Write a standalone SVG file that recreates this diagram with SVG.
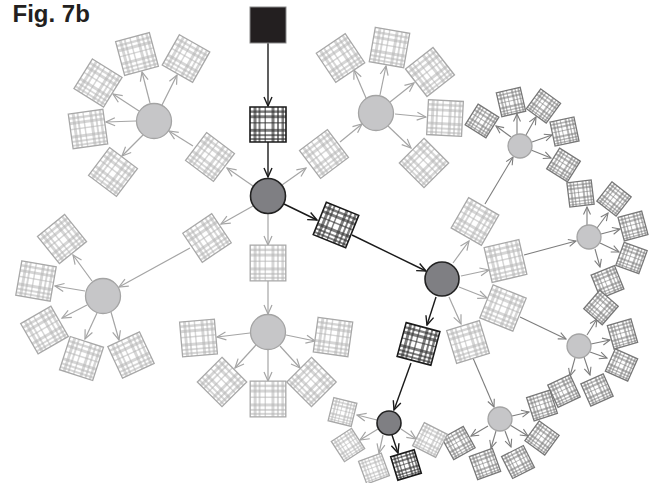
<svg xmlns="http://www.w3.org/2000/svg" xmlns:xlink="http://www.w3.org/1999/xlink" width="657" height="483" viewBox="0 0 657 483">
<style>
.bl{fill:#b4b4b4;fill-opacity:.55}
.bm{fill:#7a7a7a;fill-opacity:.55}
.bd{fill:#2e2e2e;fill-opacity:.62}
.edL{fill:none;stroke:#a8a8a8;stroke-width:1.3}
.edM{fill:none;stroke:#777;stroke-width:1.3}
.edD{fill:none;stroke:#1a1a1a;stroke-width:1.6}
.cL{fill:#c6c6c8;stroke:#a4a4a4;stroke-width:1.3}
.cD{fill:#7f7f83;stroke:#222;stroke-width:1.6}
.lL{stroke:#a5a5a5;stroke-width:1.2;fill:none;marker-end:url(#mL)}
.lM{stroke:#7d7d7d;stroke-width:1.1;fill:none;marker-end:url(#mM)}
.lD{stroke:#1a1a1a;stroke-width:1.4;fill:none;marker-end:url(#mD)}
.title{font-family:"Liberation Sans",Arial,sans-serif;font-weight:bold;font-size:24px;fill:#231f20}
</style>
<defs>
<marker id="mL" viewBox="-10 -5 11 10" refX="0" refY="0" markerWidth="11" markerHeight="10" markerUnits="userSpaceOnUse" orient="auto"><path d="M-9,-4 L0,0 L-9,4" fill="none" stroke="#a5a5a5" stroke-width="1.2"/></marker>
<marker id="mM" viewBox="-9 -5 10 10" refX="0" refY="0" markerWidth="10" markerHeight="10" markerUnits="userSpaceOnUse" orient="auto"><path d="M-7.5,-3.5 L0,0 L-7.5,3.5" fill="none" stroke="#7d7d7d" stroke-width="1.1"/></marker>
<marker id="mD" viewBox="-10 -5 11 10" refX="0" refY="0" markerWidth="11" markerHeight="10" markerUnits="userSpaceOnUse" orient="auto"><path d="M-9,-4 L0,0 L-9,4" fill="none" stroke="#1a1a1a" stroke-width="1.4"/></marker>
<g id="bands">
<rect x="-14.5" y="-18" width="3" height="36"/>
<rect x="-9.5" y="-18" width="2" height="36"/>
<rect x="-3.5" y="-18" width="1.5" height="36"/>
<rect x="3.5" y="-18" width="3" height="36"/>
<rect x="9" y="-18" width="2" height="36"/>
<rect x="13.5" y="-18" width="2.5" height="36"/>
<rect x="-18" y="-14.5" width="36" height="2.5"/>
<rect x="-18" y="-9.5" width="36" height="3"/>
<rect x="-18" y="-2.5" width="36" height="1.5"/>
<rect x="-18" y="4.5" width="36" height="3"/>
<rect x="-18" y="10" width="36" height="2"/>
<rect x="-18" y="14" width="36" height="2"/>
</g>
<g id="sqL"><rect x="-18" y="-18" width="36" height="36" fill="#fff"/><use href="#bands" class="bl"/><rect x="-18" y="-18" width="36" height="36" class="edL" vector-effect="non-scaling-stroke"/></g>
<g id="sqM"><rect x="-18" y="-18" width="36" height="36" fill="#fff"/><use href="#bands" class="bm"/><rect x="-18" y="-18" width="36" height="36" class="edM" vector-effect="non-scaling-stroke"/></g>
<g id="sqD"><rect x="-18" y="-18" width="36" height="36" fill="#fff"/><use href="#bands" class="bd"/><rect x="-18" y="-18" width="36" height="36" class="edD" vector-effect="non-scaling-stroke"/></g>
</defs>
<rect width="657" height="483" fill="#fff"/>
<text class="title" x="12.5" y="22">Fig. 7b</text>

<g id="connectors">
<line class="lD" x1="268" y1="43" x2="268" y2="106"/>
<line class="lD" x1="268" y1="142" x2="268" y2="177"/>
<line class="lD" x1="284" y1="204" x2="317" y2="220"/>
<line class="lD" x1="352" y1="235" x2="426" y2="271"/>
<line class="lD" x1="436" y1="297" x2="427" y2="325"/>
<line class="lD" x1="411" y1="363" x2="394" y2="410"/>
<line class="lD" x1="392" y1="435" x2="398" y2="453"/>
<line class="lL" x1="253" y1="186" x2="227" y2="168"/>
<line class="lL" x1="193" y1="146" x2="169" y2="131"/>
<line class="lL" x1="150" y1="103" x2="142" y2="72"/>
<line class="lL" x1="162" y1="105" x2="177" y2="75"/>
<line class="lL" x1="139" y1="111" x2="113" y2="94"/>
<line class="lL" x1="136" y1="121" x2="106" y2="122"/>
<line class="lL" x1="143" y1="135" x2="122" y2="156"/>
<line class="lL" x1="282" y1="185" x2="306" y2="168"/>
<line class="lL" x1="340" y1="142" x2="362" y2="124"/>
<line class="lL" x1="366" y1="98" x2="354" y2="70"/>
<line class="lL" x1="380" y1="95" x2="386" y2="66"/>
<line class="lL" x1="390" y1="102" x2="414" y2="83"/>
<line class="lL" x1="395" y1="114" x2="426" y2="117"/>
<line class="lL" x1="388" y1="126" x2="411" y2="148"/>
<line class="lL" x1="253" y1="206" x2="221" y2="224"/>
<line class="lL" x1="190" y1="248" x2="119" y2="287"/>
<line class="lL" x1="92" y1="281" x2="73" y2="255"/>
<line class="lL" x1="85" y1="291" x2="55" y2="286"/>
<line class="lL" x1="87" y1="305" x2="62" y2="318"/>
<line class="lL" x1="97" y1="313" x2="85" y2="339"/>
<line class="lL" x1="111" y1="312" x2="119" y2="340"/>
<line class="lL" x1="268" y1="214" x2="268" y2="245"/>
<line class="lL" x1="268" y1="281" x2="268" y2="314"/>
<line class="lL" x1="250" y1="333" x2="217" y2="337"/>
<line class="lL" x1="256" y1="345" x2="235" y2="368"/>
<line class="lL" x1="268" y1="350" x2="268" y2="381"/>
<line class="lL" x1="280" y1="346" x2="300" y2="368"/>
<line class="lL" x1="286" y1="335" x2="315" y2="341"/>
<line class="lL" x1="453" y1="263" x2="469" y2="241"/>
<line class="lL" x1="461" y1="276" x2="489" y2="270"/>
<line class="lL" x1="459" y1="287" x2="487" y2="298"/>
<line class="lL" x1="449" y1="297" x2="461" y2="324"/>
<line class="lM" x1="485" y1="204" x2="513" y2="157"/>
<line class="lM" x1="524" y1="255" x2="576" y2="241"/>
<line class="lM" x1="520" y1="317" x2="566" y2="339"/>
<line class="lM" x1="473" y1="358" x2="494" y2="407"/>
<line class="lM" x1="511" y1="137" x2="496" y2="126"/>
<line class="lM" x1="517" y1="134" x2="517" y2="114"/>
<line class="lM" x1="526" y1="135" x2="536" y2="117"/>
<line class="lM" x1="532" y1="142" x2="552" y2="135"/>
<line class="lM" x1="531" y1="150" x2="551" y2="158"/>
<line class="lM" x1="587" y1="225" x2="587" y2="207"/>
<line class="lM" x1="597" y1="228" x2="608" y2="213"/>
<line class="lM" x1="601" y1="234" x2="620" y2="229"/>
<line class="lM" x1="600" y1="243" x2="619" y2="252"/>
<line class="lM" x1="595" y1="249" x2="600" y2="267"/>
<line class="lM" x1="587" y1="335" x2="597" y2="319"/>
<line class="lM" x1="591" y1="344" x2="610" y2="340"/>
<line class="lM" x1="590" y1="352" x2="607" y2="358"/>
<line class="lM" x1="584" y1="357" x2="590" y2="375"/>
<line class="lM" x1="575" y1="358" x2="570" y2="376"/>
<line class="lM" x1="512" y1="416" x2="529" y2="412"/>
<line class="lM" x1="510" y1="425" x2="528" y2="436"/>
<line class="lM" x1="505" y1="431" x2="511" y2="447"/>
<line class="lM" x1="496" y1="431" x2="491" y2="448"/>
<line class="lM" x1="488" y1="426" x2="471" y2="436"/>
<line class="lL" x1="377" y1="420" x2="357" y2="415"/>
<line class="lL" x1="378" y1="429" x2="360" y2="440"/>
<line class="lL" x1="383" y1="435" x2="379" y2="453"/>
<line class="lL" x1="401" y1="429" x2="416" y2="439"/>
</g>

<g id="start"><rect x="250" y="7" width="36" height="36" fill="#231f20" stroke="#8a8a8a" stroke-width="1"/></g>
<g id="dk1" transform="translate(268,124.5) scale(1,0.97)"><use href="#sqD"/></g>
<g id="hub"><circle class="cD" cx="268" cy="196" r="17.5"/></g>
<g id="dk2" transform="translate(336,225) rotate(22) scale(0.97)"><use href="#sqD"/></g>
<g id="E"><circle class="cD" cx="442" cy="279" r="17"/></g>
<g id="dk3" transform="translate(418.5,344) rotate(15) scale(0.97)"><use href="#sqD"/></g>
<g id="K"><circle class="cD" cx="389" cy="423" r="12"/></g>
<g id="dk4" transform="translate(406,465) rotate(-17) scale(0.68)"><use href="#sqD"/></g>

<g id="Ai" transform="translate(210,157) rotate(37) scale(0.97)"><use href="#sqL"/></g>
<g id="A"><circle class="cL" cx="154" cy="121" r="17.5"/></g>
<g id="A1" transform="translate(137,54) rotate(-15) scale(0.97)"><use href="#sqL"/></g>
<g id="A2" transform="translate(186,58.5) rotate(29.5) scale(0.97)"><use href="#sqL"/></g>
<g id="A3" transform="translate(98,83) rotate(32) scale(0.97)"><use href="#sqL"/></g>
<g id="A4" transform="translate(88,129) rotate(-8) scale(0.97)"><use href="#sqL"/></g>
<g id="A5" transform="translate(113,172) rotate(37) scale(0.97)"><use href="#sqL"/></g>
<g id="Bi" transform="translate(324,154) rotate(-37) scale(0.97)"><use href="#sqL"/></g>
<g id="B"><circle class="cL" cx="376" cy="113" r="17.5"/></g>
<g id="B1" transform="translate(340.5,58) rotate(-34) scale(0.97)"><use href="#sqL"/></g>
<g id="B2" transform="translate(389.5,47.5) rotate(10) scale(0.97)"><use href="#sqL"/></g>
<g id="B3" transform="translate(430,72) rotate(-38) scale(0.97)"><use href="#sqL"/></g>
<g id="B4" transform="translate(445,118) rotate(3) scale(0.97)"><use href="#sqL"/></g>
<g id="B5" transform="translate(424,163) rotate(45) scale(0.97)"><use href="#sqL"/></g>
<g id="Ci" transform="translate(207,238) rotate(-34) scale(0.97)"><use href="#sqL"/></g>
<g id="C"><circle class="cL" cx="103" cy="296" r="17.5"/></g>
<g id="C1" transform="translate(62,239) rotate(-39) scale(0.97)"><use href="#sqL"/></g>
<g id="C2" transform="translate(36,281) rotate(10) scale(0.97)"><use href="#sqL"/></g>
<g id="C3" transform="translate(44.5,330) rotate(-30) scale(0.97)"><use href="#sqL"/></g>
<g id="C4" transform="translate(81.5,358.5) rotate(18) scale(0.97)"><use href="#sqL"/></g>
<g id="C5" transform="translate(131,355) rotate(-25) scale(0.97)"><use href="#sqL"/></g>
<g id="Di" transform="translate(268,263) scale(0.99)"><use href="#sqL"/></g>
<g id="D"><circle class="cL" cx="268" cy="332" r="17.5"/></g>
<g id="D1" transform="translate(198.5,338) rotate(-5) scale(0.97)"><use href="#sqL"/></g>
<g id="D2" transform="translate(222,382) rotate(45) scale(0.97)"><use href="#sqL"/></g>
<g id="D3" transform="translate(268,399) scale(0.99)"><use href="#sqL"/></g>
<g id="D4" transform="translate(311.5,382) rotate(45) scale(0.97)"><use href="#sqL"/></g>
<g id="D5" transform="translate(333,337) rotate(8) scale(0.97)"><use href="#sqL"/></g>
<g id="E1" transform="translate(475,221.5) rotate(30) scale(0.97)"><use href="#sqL"/></g>
<g id="E2" transform="translate(505.5,261) rotate(-13) scale(0.99)"><use href="#sqL"/></g>
<g id="E3" transform="translate(503,308) rotate(22) scale(0.99)"><use href="#sqL"/></g>
<g id="E4" transform="translate(468,342) rotate(-17) scale(0.95)"><use href="#sqL"/></g>
<g id="F"><circle class="cL" cx="520" cy="146" r="12"/></g>
<g id="F1" transform="translate(482,121) rotate(32) scale(0.68)"><use href="#sqM"/></g>
<g id="F2" transform="translate(511,102) rotate(-13) scale(0.68)"><use href="#sqM"/></g>
<g id="F3" transform="translate(543.5,106) rotate(36) scale(0.68)"><use href="#sqM"/></g>
<g id="F4" transform="translate(564.5,131.5) rotate(-12) scale(0.68)"><use href="#sqM"/></g>
<g id="F5" transform="translate(563.5,165) rotate(32) scale(0.68)"><use href="#sqM"/></g>
<g id="G"><circle class="cL" cx="589" cy="237" r="12"/></g>
<g id="G1" transform="translate(580.5,193.5) rotate(-7) scale(0.68)"><use href="#sqM"/></g>
<g id="G2" transform="translate(614,199) rotate(38) scale(0.68)"><use href="#sqM"/></g>
<g id="G3" transform="translate(633,226) rotate(-15) scale(0.68)"><use href="#sqM"/></g>
<g id="G4" transform="translate(631.5,258) rotate(20) scale(0.68)"><use href="#sqM"/></g>
<g id="G5" transform="translate(607.5,282) rotate(-22) scale(0.7)"><use href="#sqM"/></g>
<g id="H"><circle class="cL" cx="579" cy="346" r="12"/></g>
<g id="H1" transform="translate(601,307.5) rotate(41) scale(0.68)"><use href="#sqM"/></g>
<g id="H2" transform="translate(622.5,334) rotate(-16) scale(0.68)"><use href="#sqM"/></g>
<g id="H3" transform="translate(621.5,365) rotate(24) scale(0.68)"><use href="#sqM"/></g>
<g id="H4" transform="translate(597,390) rotate(-24) scale(0.68)"><use href="#sqM"/></g>
<g id="H5" transform="translate(564,391) rotate(-25) scale(0.68)"><use href="#sqM"/></g>
<g id="I"><circle class="cL" cx="500" cy="419" r="12"/></g>
<g id="I1" transform="translate(542,405.5) rotate(-18) scale(0.68)"><use href="#sqM"/></g>
<g id="I2" transform="translate(542,438) rotate(36) scale(0.68)"><use href="#sqM"/></g>
<g id="I3" transform="translate(518,462) rotate(-27) scale(0.68)"><use href="#sqM"/></g>
<g id="I4" transform="translate(485,464) rotate(-20) scale(0.68)"><use href="#sqM"/></g>
<g id="I5" transform="translate(458.5,443) rotate(-29) scale(0.68)"><use href="#sqM"/></g>
<g id="K1" transform="translate(342.5,412) rotate(14) scale(0.66)"><use href="#sqL"/></g>
<g id="K2" transform="translate(348,445) rotate(-33) scale(0.67)"><use href="#sqL"/></g>
<g id="K3" transform="translate(374,468.5) rotate(-20) scale(0.67)"><use href="#sqL"/></g>
<g id="K5" transform="translate(430,440) rotate(27) scale(0.72)"><use href="#sqL"/></g>
</svg>
